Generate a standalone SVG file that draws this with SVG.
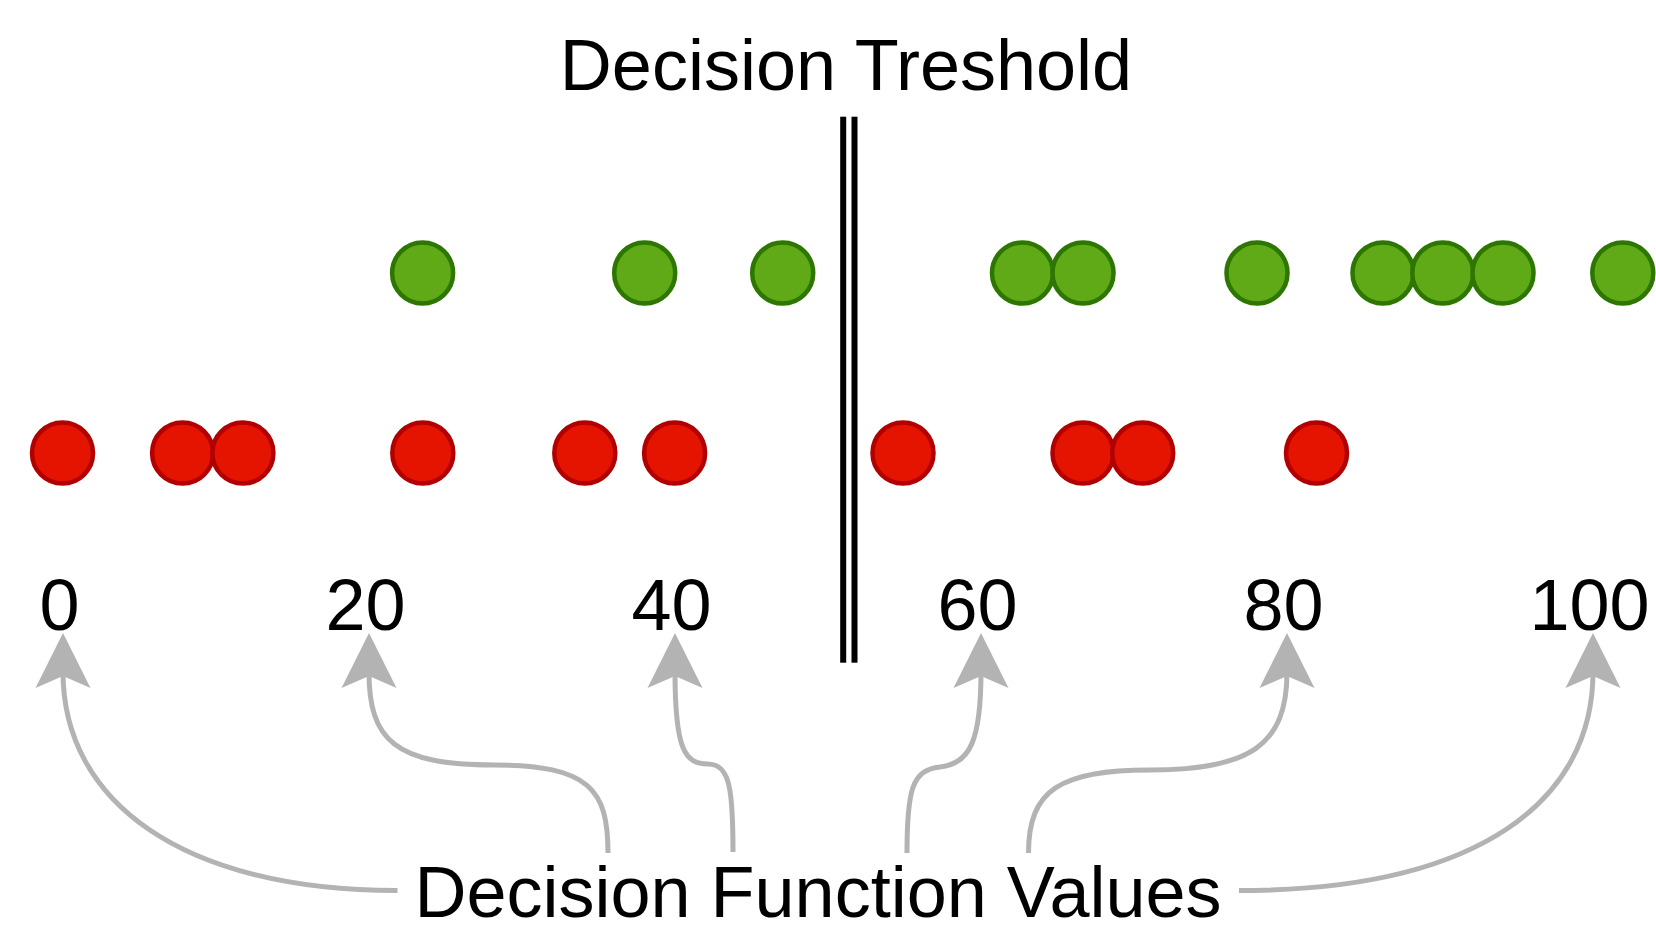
<svg xmlns="http://www.w3.org/2000/svg" width="1656" height="936" viewBox="0 0 1656 936">
<style>
.g{fill:#60a917;stroke:#2d7600;stroke-width:4.5}
.r{fill:#e51400;stroke:#b20000;stroke-width:4.5}
.t{font-family:"Liberation Sans",Arial,sans-serif;font-size:72px;fill:#000;text-anchor:middle}
.c{fill:none;stroke:#b3b3b3;stroke-width:5;marker-end:url(#ah)}
</style>
<defs>
<marker id="ah" markerUnits="userSpaceOnUse" viewBox="-15 -30 60 60" markerWidth="60" markerHeight="60" refX="4" refY="0" orient="auto">
<path d="M43 0 L-12 -27.5 L0 0 L-12 27.5 Z" fill="#b3b3b3"/>
</marker>
</defs>
<rect width="1656" height="936" fill="#fff"/>
<g id="title"><text class="t" x="846" y="90">Decision Treshold</text></g>
<g id="threshold">
<rect x="840.2" y="116.7" width="6" height="546" fill="#000"/>
<rect x="851.5" y="116.7" width="6" height="546" fill="#000"/>
</g>
<g id="positives">
<circle class="g" cx="422.6" cy="273" r="30.5"/>
<circle class="g" cx="644.7" cy="273" r="30.5"/>
<circle class="g" cx="782.7" cy="273" r="30.5"/>
<circle class="g" cx="1022.5" cy="273" r="30.5"/>
<circle class="g" cx="1083" cy="273" r="30.5"/>
<circle class="g" cx="1257" cy="273" r="30.5"/>
<circle class="g" cx="1383" cy="273" r="30.5"/>
<circle class="g" cx="1442.8" cy="273" r="30.5"/>
<circle class="g" cx="1503" cy="273" r="30.5"/>
<circle class="g" cx="1622.8" cy="273" r="30.5"/>
</g>
<g id="negatives">
<circle class="r" cx="62.5" cy="453" r="30.5"/>
<circle class="r" cx="182.6" cy="453" r="30.5"/>
<circle class="r" cx="242.9" cy="453" r="30.5"/>
<circle class="r" cx="422.8" cy="453" r="30.5"/>
<circle class="r" cx="584.8" cy="453" r="30.5"/>
<circle class="r" cx="674.6" cy="453" r="30.5"/>
<circle class="r" cx="903" cy="453" r="30.5"/>
<circle class="r" cx="1083" cy="453" r="30.5"/>
<circle class="r" cx="1142.7" cy="453" r="30.5"/>
<circle class="r" cx="1316.5" cy="453" r="30.5"/>
</g>
<g id="ticks">
<text class="t" x="59.5" y="630">0</text>
<text class="t" x="365.5" y="630">20</text>
<text class="t" x="671.5" y="630">40</text>
<text class="t" x="977.5" y="630">60</text>
<text class="t" x="1283.5" y="630">80</text>
<text class="t" x="1589.5" y="630">100</text>
</g>
<g id="label"><text class="t" x="818" y="917">Decision Function Values</text></g>
<g id="connectors">
<path class="c" d="M397.5 890.5 C180 890.5 63 800 63 672"/>
<path class="c" d="M608 853 C608 790 590 765 494 765 C395 765 369 740 369 672"/>
<path class="c" d="M733 852 C733 790 730 764 708 764 C685 764 675 750 675 672"/>
<path class="c" d="M907 853 C907 790 912 770 940 767 C970 764 981 740 981 672"/>
<path class="c" d="M1028.5 853 C1028.5 790 1060 770 1150 770 C1250 770 1287 745 1287 672"/>
<path class="c" d="M1239 890.5 C1480 890.5 1593 800 1593 672"/>
</g>
</svg>
